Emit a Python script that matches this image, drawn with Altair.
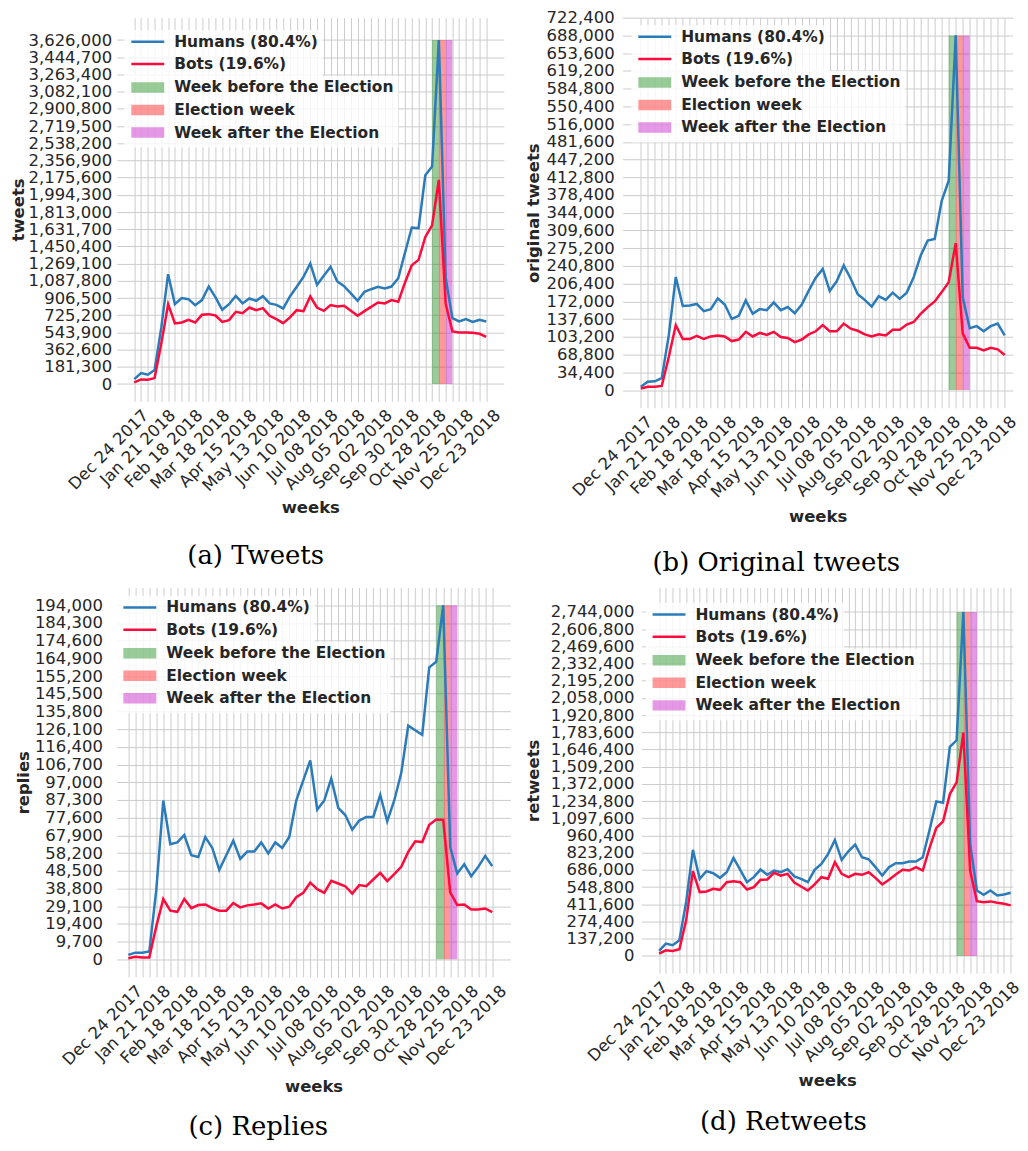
import json
import altair as alt
import pandas as pd

# ---------------- data ----------------
weeks = list(range(53))
tick_labels = ["Dec 24 2017", "Jan 21 2018", "Feb 18 2018", "Mar 18 2018", "Apr 15 2018",
               "May 13 2018", "Jun 10 2018", "Jul 08 2018", "Aug 05 2018", "Sep 02 2018",
               "Sep 30 2018", "Oct 28 2018", "Nov 25 2018", "Dec 23 2018"]

humans_tweets = [52000, 116000, 98000, 147000, 600000, 1158000, 842000, 906000, 895000, 832000,
                 885000, 1028000, 913000, 783000, 842000, 930000, 850000, 902000, 878000, 927000,
                 850000, 835000, 797000, 923000, 1025000, 1130000, 1271000, 1046000, 1141000, 1236000,
                 1081000, 1032000, 955000, 878000, 972000, 1000000, 1025000, 1007000, 1028000, 1116000,
                 1386000, 1650000, 1643000, 2201000, 2292000, 3626000, 1123000, 695000, 660000, 684000,
                 656000, 677000, 660000]
bots_tweets = [18000, 49000, 46000, 63000, 430000, 842000, 639000, 649000, 677000, 649000,
               730000, 737000, 723000, 656000, 674000, 762000, 748000, 807000, 779000, 800000,
               720000, 684000, 642000, 702000, 779000, 769000, 923000, 807000, 772000, 832000,
               818000, 825000, 772000, 720000, 769000, 814000, 860000, 850000, 885000, 867000,
               1071000, 1253000, 1309000, 1551000, 1674000, 2152000, 850000, 555000, 544000, 544000,
               541000, 530000, 498000]

humans_original = [6400, 16000, 17000, 23000, 106000, 219000, 163000, 164000, 167000, 153000,
                   157000, 178000, 166000, 138000, 144000, 174000, 148000, 157000, 155000, 170000,
                   155000, 161000, 149000, 166000, 193000, 218000, 235000, 192000, 211000, 242000,
                   216000, 186000, 175000, 162000, 182000, 175000, 189000, 177000, 189000, 219000,
                   261000, 290000, 293000, 367000, 406000, 688000, 180000, 120000, 124000, 114000,
                   124000, 129000, 106000]
bots_original = [3000, 6400, 6400, 8000, 64000, 126000, 99000, 99000, 105000, 99000,
                 104000, 106000, 104000, 95000, 98000, 113000, 104000, 111000, 107000, 113000,
                 103000, 101000, 93000, 98000, 108000, 114000, 126000, 114000, 114000, 129000,
                 119000, 115000, 108000, 104000, 108000, 106000, 117000, 117000, 127000, 132000,
                 148000, 161000, 172000, 190000, 209000, 285000, 110000, 82000, 82000, 77000,
                 82000, 79000, 68000]

humans_replies = [2400, 3600, 3500, 4200, 38000, 87000, 63000, 64000, 68000, 57000,
                  56000, 67000, 61000, 49000, 57000, 65000, 55000, 59000, 59000, 64000,
                  58000, 64000, 61000, 67000, 87000, 98000, 109000, 82000, 87000, 99000,
                  83000, 79000, 71000, 76000, 78000, 78000, 90000, 75500, 87000, 102000,
                  128000, 125500, 123000, 160000, 163000, 194000, 61500, 47000, 52000, 45500,
                  50600, 56600, 51000]
bots_replies = [500, 1300, 1000, 1000, 18000, 33000, 26600, 26000, 33000, 28000,
                29700, 30000, 28000, 26600, 26600, 30800, 28400, 29500, 30000, 30600,
                27800, 30000, 27800, 28800, 34000, 36400, 42000, 38400, 36400, 43000,
                41500, 40000, 36000, 40600, 40000, 43700, 47300, 42800, 46600, 50600,
                58800, 64600, 64200, 73700, 76600, 76400, 36600, 29700, 30000, 27300,
                27300, 27800, 25800]

humans_retweets = [40000, 98000, 85000, 125000, 430000, 846000, 615000, 676000, 660000, 623000,
                   668000, 782000, 687000, 588000, 628000, 689000, 647000, 681000, 668000, 692000,
                   634000, 615000, 588000, 687000, 734000, 814000, 925000, 766000, 835000, 888000,
                   787000, 771000, 708000, 641000, 708000, 740000, 740000, 753000, 753000, 787000,
                   1005000, 1233000, 1222000, 1667000, 1720000, 2744000, 893000, 522000, 488000, 522000,
                   482000, 490000, 504000]
bots_retweets = [18600, 45000, 40000, 53000, 284000, 676000, 509000, 514000, 535000, 527000,
                 588000, 596000, 588000, 530000, 549000, 607000, 610000, 663000, 641000, 655000,
                 586000, 554000, 522000, 570000, 628000, 615000, 748000, 655000, 628000, 655000,
                 647000, 668000, 623000, 570000, 607000, 650000, 687000, 681000, 708000, 681000,
                 862000, 1021000, 1074000, 1291000, 1384000, 1781000, 681000, 437000, 429000, 435000,
                 424000, 416000, 403000]

line_labels = ["Humans (80.4%)", "Bots (19.6%)"]
line_colors = ["#2b7bba", "#ff0a3c"]
band_labels = ["Week before the Election", "Election week", "Week after the Election"]
band_colors = ["#008000", "#ff0000", "#bf00bf"]
band_start = [44, 45, 46]
band_end = [45, 46, 47]

# ---------------- style ----------------
TXT = "#262626"
GRID = "#cccccc"
FONT = "DejaVu Sans"
ROW = 22.7

label_list = json.dumps(tick_labels).replace('"', "'")
x_label_expr = f"datum.value % 4 == 0 ? {label_list}[round(datum.value / 4)] : ''"
y_label_expr = "format(datum.value, ',.0f')"

line_path = "M-3.3,0H3.3"
rect_path = "M-3.3,-1.05H3.3V1.05H-3.3Z"
PAD = "\u00a0" * 19


def legend_common(row_pad):
    return dict(title=None, orient="none", padding=4, rowPadding=row_pad, symbolSize=100,
                symbolStrokeWidth=2.5, symbolOffset=11.75, labelOffset=18.7,
                labelFont=FONT, labelFontSize=15.5, labelFontWeight="bold", labelColor=TXT,
                labelLimit=500, fillColor="rgba(255,255,255,0.8)")


def make_panel(humans, bots, ylab, caption, g):
    peak = max(humans)
    step = peak / 20
    yvals = [round(step * i) for i in range(g["nticks"])]
    xscale = alt.Scale(domain=g["xdom"], nice=False, zero=False)
    yscale = alt.Scale(domain=g["ydom"], nice=False, zero=False)
    xaxis = alt.Axis(values=weeks, labelExpr=x_label_expr, labelAngle=315, labelAlign="right",
                     labelBaseline="top", labelOffset=g["xlo"], labelPadding=5.5,
                     labelFontSize=16.5, labelOverlap=False, labelBound=False, labelFlush=False,
                     title="weeks", titlePadding=g["xtp"], titleFontSize=16.5)
    yaxis = alt.Axis(values=yvals, labelExpr=y_label_expr, labelFontSize=16.5,
                     labelPadding=g["ylp"], labelOverlap=False, labelBound=False,
                     labelFlush=False, title=ylab, titlePadding=g["ytp"], titleFontSize=16.5)

    line_legend = alt.Legend(legendX=g["lx"], legendY=g["ly"], symbolType=line_path,
                             labelExpr=f"datum.label + '{PAD}'", **legend_common(5.3))
    band_legend = alt.Legend(legendX=g["lx"], legendY=g["ly"] + 2 * ROW + 0.5,
                             symbolType=rect_path, symbolOpacity=0.4,
                             symbolStrokeColor="transparent", **legend_common(1.6))

    bands = pd.DataFrame({"start": band_start, "end": band_end, "cat": band_labels,
                          "base": [0, 0, 0], "top": [peak] * 3})
    dh = pd.DataFrame({"week": weeks, "value": humans, "series": line_labels[0]})
    db = pd.DataFrame({"week": weeks, "value": bots, "series": line_labels[1]})

    band_layer = alt.Chart(bands).mark_rect(opacity=0.4).encode(
        x=alt.X("start:Q", scale=xscale, axis=xaxis),
        x2="end:Q",
        y=alt.Y("base:Q", scale=yscale, axis=yaxis),
        y2="top:Q",
        fill=alt.Fill("cat:N", scale=alt.Scale(domain=band_labels, range=band_colors),
                      legend=band_legend),
    )

    def line_layer(df):
        return alt.Chart(df).mark_line(strokeWidth=2.5).encode(
            x=alt.X("week:Q", scale=xscale, axis=xaxis),
            y=alt.Y("value:Q", scale=yscale, axis=yaxis),
            color=alt.Color("series:N", scale=alt.Scale(domain=line_labels, range=line_colors),
                            legend=line_legend),
        )

    return alt.layer(band_layer, line_layer(dh), line_layer(db)).properties(
        width=g["w"], height=g["h"],
        title=alt.TitleParams(caption, orient="bottom", anchor="middle", frame="bounds",
                              font="DejaVu Serif", fontSize=26, fontWeight="normal",
                              color="black", offset=g["cap_off"], dx=g["cap_dx"]),
    )


geo_a = dict(w=388.3, h=384.75, xdom=[-2.6, 54.6], ydom=[-181300, 3862478], nticks=21,
             lx=7.7, ly=12.4, ytp=1.5, ylp=5.0, xtp=4.85, xlo=5.5, cap_off=28, cap_dx=-1.5)
geo_b = dict(w=391.25, h=391.3, xdom=[-2.6, 53.14], ydom=[-34400, 722400], nticks=22,
             lx=8.8, ly=7.3, ytp=5, ylp=8.5, xtp=7.7, xlo=3, cap_off=25, cap_dx=4)
geo_c = dict(w=394.9, h=390.5, xdom=[-1.66, 54.6], ydom=[-9700, 203700], nticks=21,
             lx=-0.3, ly=8.2, ytp=3.3, ylp=14.35, xtp=8.5, xlo=5.5, cap_off=19, cap_dx=-4.5)
geo_d = dict(w=372.3, h=386.7, xdom=[-2.6, 52.3], ydom=[-137200, 2938466], nticks=21,
             lx=4.1, ly=15.3, ytp=8.85, ylp=7.6, xtp=6.6, xlo=0, cap_off=19.5, cap_dx=9.5)

pa = make_panel(humans_tweets, bots_tweets, "tweets", "(a) Tweets", geo_a)
pb = make_panel(humans_original, bots_original, "original tweets", "(b) Original tweets", geo_b)
pc = make_panel(humans_replies, bots_replies, "replies", "(c) Replies", geo_c)
pd_ = make_panel(humans_retweets, bots_retweets, "retweets", "(d) Retweets", geo_d)

chart = alt.concat(pa, pb, pc, pd_, columns=2, align="none",
                   spacing={"row": 11.6, "column": 14.4}).resolve_scale(
    color="independent", fill="independent").resolve_legend(
    color="independent", fill="independent").properties(
    padding={"left": 2, "top": 0, "right": -3, "bottom": 0}, background="white"
).configure_view(stroke=None).configure_axis(
    labelFont=FONT, labelColor=TXT, titleFont=FONT, titleColor=TXT, titleFontWeight="bold",
    grid=True, gridColor=GRID, gridWidth=1, domain=False, ticks=False,
)

chart.save("out.html", embed_options={"renderer": "svg", "actions": False})
